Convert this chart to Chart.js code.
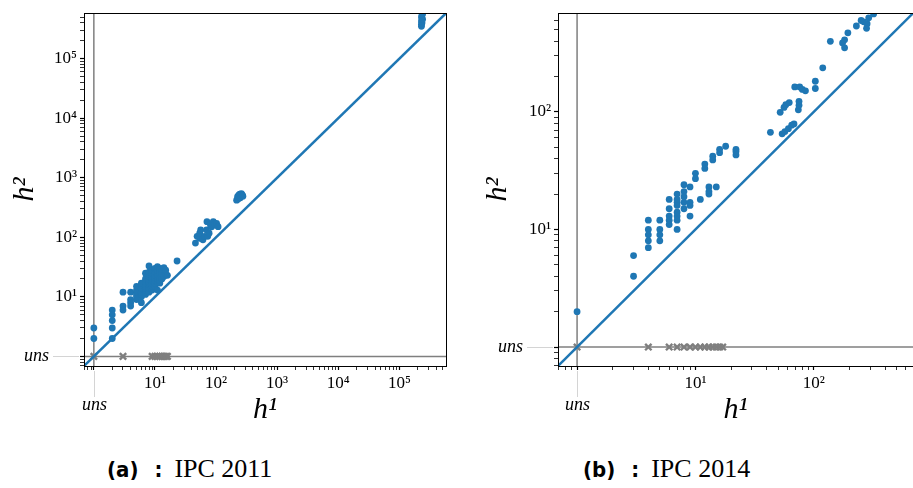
<!DOCTYPE html>
<html>
<head>
<meta charset="utf-8">
<script src="https://cdn.jsdelivr.net/npm/chart.js@4"></script>
<style>
  body { margin: 0; width: 913px; height: 488px; overflow: hidden; background: #fff; position: relative; }
  .box { position: absolute; top: 0; width: 460px; height: 440px; }
  .cap { position: absolute; top: 456px; font: 26px/1 "Liberation Serif", serif; color: #000; white-space: nowrap; }
  .cap b { font-family: "Liberation Sans Narrow", "DejaVu Sans Condensed", "DejaVu Sans", sans-serif; font-stretch: condensed; font-size: 22px; }
  .cap .colon { margin-left: 16px; }
  .cap span { margin-left: 12px; }
</style>
</head>
<body>
<div class="box" style="left:0"><canvas id="a"></canvas></div>
<div class="box" style="left:460px"><canvas id="b"></canvas></div>
<div class="cap" style="left:107px"><b>(a)</b><b class="colon">:</b><span id="capA"></span></div>
<div class="cap" style="left:583px"><b>(b)</b><b class="colon">:</b><span id="capB"></span></div>
<script>
// legendas
var captions = ['IPC 2011', 'IPC 2014'];
var unsLabel = 'uns';
var xTitle = 'h¹';
var yTitle = 'h²';
var sup = ['⁰', '¹', '²', '³', '⁴', '⁵'];

// IPC 2011 : h1 / h2 (uns = 1)
var h1_2011 = [1, 1, 2, 2, 2, 2, 2, 3, 3, 3, 4, 4, 4, 4,
  5, 5, 5, 5, 5, 5, 6, 6, 6, 6, 6, 6, 6,
  7, 7, 7, 7, 7, 7, 7, 7, 7, 8, 8, 8, 8, 8, 8, 8, 8, 8, 8,
  9, 9, 9, 9, 9, 9, 9, 9, 10, 10, 10, 10, 10, 10, 10,
  11, 11, 11, 11, 11, 11, 11, 12, 12, 12, 12, 12, 13, 13, 13,
  14, 14, 15, 15, 16, 23,
  46, 49, 54, 54, 56, 61, 65, 70, 71, 73, 77, 81, 85, 90, 96, 102, 108,
  217, 225, 230, 235, 240, 245, 250, 255, 260, 265, 270, 275,
  230000, 230000, 235000, 230000, 240000, 230000, 235000, 240000];
var h2_2011 = [3, 2, 6, 5, 4, 3, 2, 12, 7, 6, 12, 9, 8, 7,
  9, 10, 11, 12, 13, 15, 8, 10, 11, 12, 14, 16, 17,
  11, 12, 13, 14, 15, 16, 18, 20, 25, 12, 14, 16, 17, 18, 20, 22, 24, 26, 33,
  13, 15, 17, 19, 20, 22, 25, 28, 15, 17, 19, 21, 23, 26, 30,
  13, 18, 20, 22, 24, 28, 32, 17, 19, 21, 25, 30, 20, 24, 29,
  22, 31, 24, 28, 23, 40,
  80, 104, 96, 117, 133, 91, 104, 133, 183, 104, 117, 161, 150, 183, 168, 172, 151,
  420, 480, 440, 510, 470, 530, 460, 500, 540, 520, 505, 490,
  350000, 380000, 400000, 430000, 460000, 500000, 540000, 570000];
var uns_2011 = [1, 3, 9, 10, 11, 12, 13, 14, 15, 16];

// IPC 2014
var h1_2014 = [1, 3, 3, 4, 4, 4, 4, 4, 5, 5, 5, 5, 6, 6, 6, 6, 6,
  7, 7, 7, 7, 7, 7, 7, 7, 8, 8, 8, 8, 8, 9, 9, 9, 9,
  10, 10, 11, 12, 12, 13, 13, 13, 14, 14, 15, 16, 16, 18, 22, 22, 22,
  43, 54, 57, 61, 65, 68, 52, 56, 58, 62, 74, 75, 75, 69, 76, 80, 85, 103, 103, 119,
  138, 175, 182, 182, 194, 229, 251, 264, 282, 279, 291, 320];
var h2_2014 = [2, 6, 4, 12, 10, 9, 8, 7, 12, 10, 9, 8, 18, 15, 13, 12, 11,
  20, 18, 17, 16, 14, 13, 12, 10, 24, 21, 19, 17, 15, 23, 17, 16, 13,
  30, 27, 18, 36, 33, 23, 21, 20, 42, 39, 23, 48, 45, 51, 48, 46, 43,
  67, 65, 68, 72, 77, 79, 99, 109, 115, 120, 104, 114, 123, 163, 163, 155, 151, 182, 158, 237,
  398, 385, 410, 350, 470, 537, 598, 583, 561, 513, 630, 680];
var uns_2014 = [1, 4, 6, 7, 8, 9, 10, 11, 12, 13, 14, 15, 16, 17];

document.getElementById('capA').textContent = captions[0];
document.getElementById('capB').textContent = captions[1];

var blue = '#1f77b4';
var gray = '#7f7f7f';

function logTicks(min, max) {
  var out = [];
  for (var e = Math.floor(Math.log10(min)); e <= Math.ceil(Math.log10(max)); e++) {
    for (var m = 1; m < 10; m++) {
      var v = m * Math.pow(10, e);
      if (v >= min && v <= max) out.push({ value: v, major: m === 1 });
    }
  }
  return out;
}

function tickLabel(value) {
  var e = Math.round(Math.log10(value));
  if (e >= 1 && Math.abs(value - Math.pow(10, e)) < 1e-9 * value) return '10' + sup[e];
  return '';
}

// cadre + étiquettes "uns"
var unsPlugin = {
  id: 'unsPlugin',
  afterDraw: function (chart) {
    var ctx = chart.ctx, a = chart.chartArea;
    var px = Math.round(chart.scales.x.getPixelForValue(1)) + 0.5;
    var py = Math.round(chart.scales.y.getPixelForValue(1)) + 0.5;
    ctx.save();
    ctx.strokeStyle = '#d4d4d4';
    ctx.lineWidth = 1;
    ctx.beginPath();
    ctx.moveTo(a.left - 31, py); ctx.lineTo(a.left - 5, py);
    ctx.moveTo(px, a.bottom + 5); ctx.lineTo(px, a.bottom + 31);
    ctx.stroke();
    ctx.fillStyle = '#000';
    ctx.font = 'italic 18px "Liberation Serif"';
    ctx.textAlign = 'right';
    ctx.textBaseline = 'alphabetic';
    ctx.fillText(unsLabel, a.left - 35, py + 4);
    ctx.textAlign = 'center';
    ctx.fillText(unsLabel, px, a.bottom + 44);
    ctx.strokeStyle = '#000';
    ctx.strokeRect(Math.round(a.left) + 0.5, Math.round(a.top) + 0.5,
      Math.round(a.width), Math.round(a.height));
    ctx.restore();
  }
};

function makeChart(id, h1, h2, uns, min, max, yWidth, padRight, yTitlePad) {
  var pts = h1.map(function (x, i) { return { x: x, y: h2[i] }; });
  var unsPts = uns.map(function (x) { return { x: x, y: 1 }; });

  function axis(isX) {
    return {
      type: 'logarithmic',
      min: min,
      max: max,
      afterBuildTicks: function (s) { s.ticks = logTicks(min, max); },
      afterFit: function (s) { if (isX) s.height = 74; else s.width = yWidth; },
      border: { display: true, color: '#000', width: 1 },
      grid: {
        drawOnChartArea: false,
        tickLength: 4,
        tickColor: '#000',
        tickWidth: function (c) { return c.tick && c.tick.major ? 1.2 : 0.8; }
      },
      ticks: {
        autoSkip: false,
        maxRotation: 0,
        minRotation: 0,
        padding: 3,
        color: '#000',
        font: { family: 'Liberation Serif', size: 17 },
        callback: tickLabel
      },
      title: {
        display: true,
        text: isX ? xTitle : yTitle,
        color: '#000',
        font: { family: 'Liberation Serif', style: 'italic', size: 30 },
        padding: isX ? { top: 0, bottom: 12 } : { top: yTitlePad, bottom: 0 }
      }
    };
  }

  return new Chart(document.getElementById(id).getContext('2d'), {
    type: 'scatter',
    data: {
      datasets: [
        { data: pts, order: 1, pointRadius: 3.4, pointBackgroundColor: blue, pointBorderWidth: 0 },
        { type: 'line', data: [{ x: min, y: min }, { x: max, y: max }], order: 2,
          borderColor: blue, borderWidth: 2.5, pointRadius: 0 },
        { data: unsPts, order: 3, pointStyle: 'crossRot', pointRadius: 4.5,
          borderColor: gray, borderWidth: 2.4, pointBackgroundColor: gray },
        { type: 'line', data: [{ x: 1, y: min }, { x: 1, y: max }], order: 4,
          borderColor: gray, borderWidth: 1.5, pointRadius: 0 },
        { type: 'line', data: [{ x: min, y: 1 }, { x: max, y: 1 }], order: 4,
          borderColor: gray, borderWidth: 1.5, pointRadius: 0 }
      ]
    },
    options: {
      responsive: true,
      maintainAspectRatio: false,
      animation: false,
      layout: { padding: { top: 5, right: padRight, left: 0, bottom: 0 } },
      plugins: { legend: { display: false }, tooltip: { enabled: false } },
      scales: { x: axis(true), y: axis(false) }
    },
    plugins: [unsPlugin]
  });
}

makeChart('a', h1_2011, h2_2011, uns_2011, 0.69, 580000, 84, 14, 7);
makeChart('b', h1_2014, h2_2014, uns_2014, 0.69, 690, 98, 1, 20);
</script>
</body>
</html>
